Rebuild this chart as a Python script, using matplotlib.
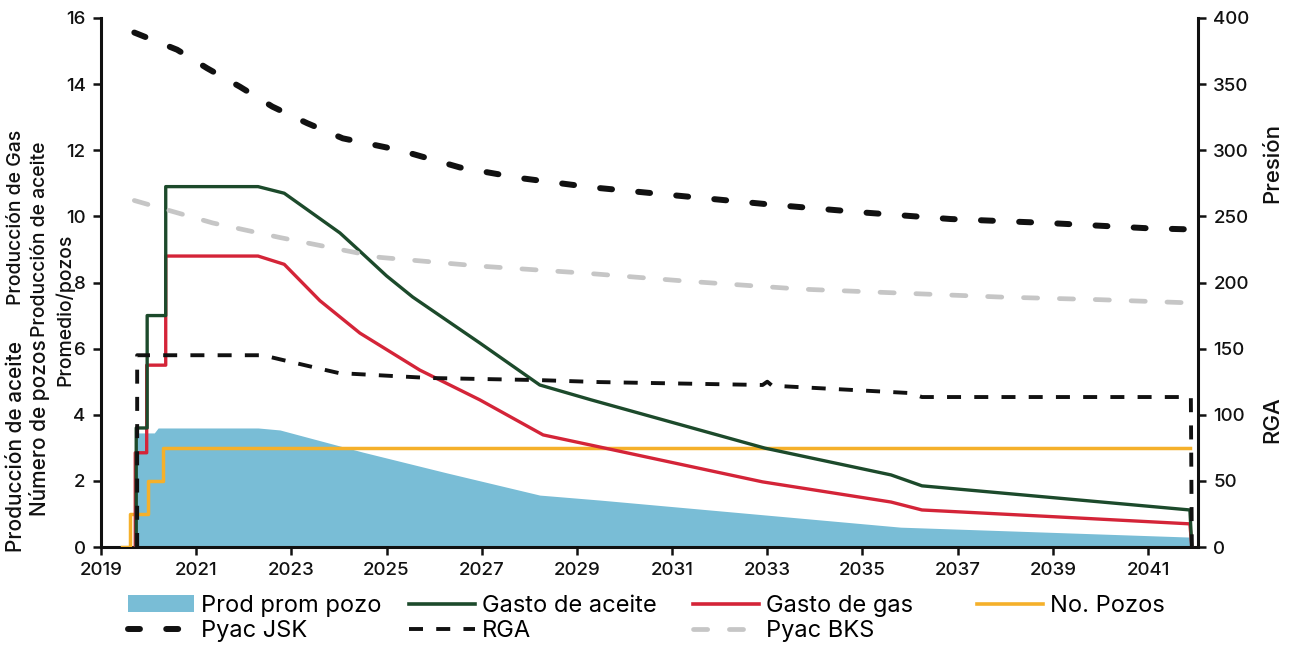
import matplotlib
matplotlib.use("Agg")
import matplotlib.pyplot as plt
from matplotlib.lines import Line2D
from matplotlib.patches import Patch

plt.rcParams['font.family'] = ['Inter', 'DejaVu Sans']

# ---- series (time in fractional years) ----
t_prom = [2019.72, 2019.72, 2020.12, 2020.2, 2022.3, 2022.76, 2024.5, 2026.27,
          2028.22, 2029.48, 2035.8, 2041.88, 2041.9]
v_prom = [0, 3.45, 3.45, 3.6, 3.6, 3.54, 2.87, 2.24, 1.57, 1.42, 0.60, 0.30, 0]

t_oil = [2019.74, 2019.74, 2019.97, 2019.97, 2020.36, 2020.36, 2022.3, 2022.85,
         2024.02, 2024.4, 2025.0, 2025.55, 2026.96, 2028.22, 2029.3, 2032.95,
         2035.6, 2036.25, 2039.1, 2041.88, 2041.92]
v_oil = [0, 3.6, 3.6, 7.0, 7.0, 10.9, 10.9, 10.7, 9.5, 9.0, 8.2, 7.56, 6.17,
         4.9, 4.45, 2.99, 2.18, 1.85, 1.48, 1.12, 0]

t_gas = [2019.72, 2019.72, 2019.96, 2019.96, 2020.36, 2020.36, 2022.3, 2022.85,
         2023.6, 2024.44, 2025.7, 2026.96, 2028.29, 2029.3, 2032.9, 2035.6,
         2036.25, 2039.1, 2041.88, 2041.92]
v_gas = [0, 2.85, 2.85, 5.5, 5.5, 8.8, 8.8, 8.55, 7.45, 6.47, 5.35, 4.45, 3.39,
         3.08, 1.97, 1.36, 1.12, 0.91, 0.70, 0]

t_pozos = [2019.45, 2019.6, 2019.6, 2019.99, 2019.99, 2020.3, 2020.3, 2041.88]
v_pozos = [0, 0, 1, 1, 2, 2, 3, 3]

t_jsk = [2019.7, 2020.6, 2021.23, 2021.92, 2022.6, 2023.33, 2024.08, 2025.28,
         2026.54, 2027.8, 2029.3, 2031.6, 2033.05, 2035.0, 2036.85, 2038.9,
         2041.0, 2042.05]
v_jsk = [389, 376, 362, 348, 333, 320.5, 309, 300, 287, 279, 272, 264, 259,
         253, 248, 245, 241, 240]

t_bks = [2019.7, 2021.35, 2022.76, 2024.86, 2026.96, 2029.2, 2031.3, 2033.7,
         2035.8, 2037.9, 2040.0, 2041.95]
v_bks = [262, 245, 234, 219, 212.4, 207, 201, 195, 192, 189, 187, 184.5]

t_rga = [2019.76, 2019.76, 2022.4, 2022.82, 2023.54, 2024.0, 2025.9, 2028.2,
         2029.48, 2032.9, 2033.0, 2033.1, 2036.0, 2036.25, 2041.9, 2041.92]
v_rga = [0, 145, 145, 141.4, 135.3, 131.5, 127.8, 126.2, 124.7, 122.5, 125,
         122, 116.4, 113.4, 113.4, 0]

years = list(range(2019, 2042, 2))
left_ticks = list(range(0, 17, 2))
right_ticks = list(range(0, 401, 50))

# ---- styling ----
C_BLUE = "#79bdd6"
C_OIL = "#1c4a2b"
C_GAS = "#d42438"
C_POZ = "#f5b02a"
C_BKS = "#c6c6c6"
C_BLK = "#111111"

W, H = 1294, 645
fig = plt.figure(figsize=(W / 100, H / 100), dpi=100)
ax = fig.add_axes([101 / W, 1 - 547 / H, (1198 - 101) / W, (547 - 18) / H])
ax2 = ax.twinx()

ax.fill_between(t_prom, v_prom, 0, color=C_BLUE, lw=0, zorder=1)
ax.plot(t_pozos, v_pozos, color=C_POZ, lw=2.5, zorder=3)
ax.plot(t_gas, v_gas, color=C_GAS, lw=2.4, zorder=4)
ax.plot(t_oil, v_oil, color=C_OIL, lw=2.4, zorder=5)

jsk_style = dict(color=C_BLK, lw=4.3, dashes=(2.0, 4.4), dash_capstyle="round")
rga_style = dict(color=C_BLK, lw=2.8, dashes=(3.6, 3.4), dash_capstyle="butt")
bks_style = dict(color=C_BKS, lw=3.4, dashes=(3.0, 4.6), dash_capstyle="round")

ax2.plot(t_bks, v_bks, **bks_style)
ax2.plot(t_rga, v_rga, **rga_style)
ax2.plot(t_jsk, v_jsk, **jsk_style)

ax.set_xlim(2019, 2042.05)
ax.set_ylim(0, 16)
ax2.set_ylim(0, 400)
ax.set_xticks(years)
ax.set_yticks(left_ticks)
ax2.set_yticks(right_ticks)

for a in (ax, ax2):
    a.spines["top"].set_visible(False)
    for s in a.spines.values():
        s.set_linewidth(2.2)
        s.set_color(C_BLK)
ax.spines["right"].set_visible(False)
ax2.spines["left"].set_visible(False)
ax2.spines["bottom"].set_visible(False)

tick_kw = dict(direction="out", length=6, width=1.8, labelsize=13.5, pad=5,
               colors=C_BLK)
ax.tick_params(axis="both", **tick_kw)
ax2.tick_params(axis="y", **tick_kw)
for lbl in ax.get_xticklabels() + ax.get_yticklabels() + ax2.get_yticklabels():
    lbl.set_fontweight("medium")

# ---- axis titles ----
def vtext(x, y, s, size):
    fig.text(x / W, 1 - y / H, s, rotation=90, ha="center", va="center",
             fontsize=size, fontweight="medium", color=C_BLK)

vtext(16, 447, "Producción de aceite", 15)
vtext(40, 428, "Número de pozos", 15)
vtext(16, 217, "Producción de Gas", 14)
vtext(40, 239, "Producción de aceite", 14)
vtext(65, 310, "Promedio/pozos", 14)
vtext(1272, 163, "Presión", 16)
vtext(1272, 420, "RGA", 16)

# ---- legend, one column group at a time ----
h_prom = Patch(facecolor=C_BLUE, edgecolor="none")
h_oil = Line2D([], [], color=C_OIL, lw=2.6)
h_gas = Line2D([], [], color=C_GAS, lw=2.6)
h_poz = Line2D([], [], color=C_POZ, lw=2.6)
h_jsk = Line2D([], [], **jsk_style)
h_rga = Line2D([], [], **rga_style)
h_bks = Line2D([], [], **bks_style)

groups = [
    (128, [h_prom, h_jsk], ["Prod prom pozo", "Pyac JSK"]),
    (409, [h_oil, h_rga], ["Gasto de aceite", "RGA"]),
    (693, [h_gas, h_bks], ["Gasto de gas", "Pyac BKS"]),
    (977, [h_poz], ["No. Pozos"]),
]
for x0, hs, ls in groups:
    fig.legend(hs, ls, loc="upper left", bbox_to_anchor=(x0 / W, 1 - 595 / H),
               frameon=False, fontsize=17, handlelength=2.8,
               handletextpad=0.3, labelspacing=0.12, borderpad=0,
               borderaxespad=0)

fig.savefig("out.png", dpi=100, facecolor="white")
